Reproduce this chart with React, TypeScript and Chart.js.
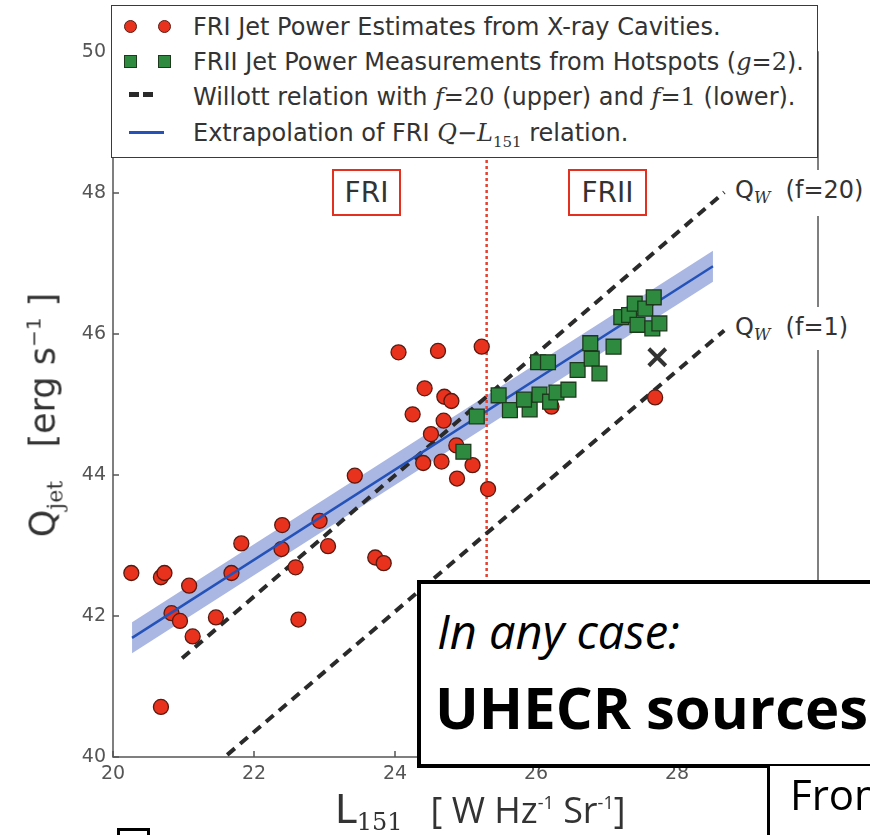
import React, { useEffect, useRef } from "react";
import { Chart, registerables } from "chart.js";

Chart.register(...registerables);

// ---- data ----
const friL = [20.26, 20.68, 20.73, 21.08, 20.83, 20.95, 21.13, 20.68, 21.46, 21.68, 21.82, 22.4, 22.39, 22.59, 22.63, 22.93, 23.05, 23.43, 23.72, 23.84, 24.4, 24.66, 24.88, 25.1, 25.32, 24.87, 24.05, 24.61, 25.23, 24.42, 24.7, 24.8, 24.25, 24.69, 24.51, 27.69, 26.22];
const friQ = [42.61, 42.55, 42.61, 42.43, 42.04, 41.93, 41.71, 40.71, 41.98, 42.61, 43.03, 43.29, 42.95, 42.69, 41.95, 43.35, 42.99, 43.99, 42.83, 42.75, 44.17, 44.19, 43.95, 44.14, 43.8, 44.42, 45.74, 45.76, 45.82, 45.23, 45.11, 45.05, 44.86, 44.77, 44.58, 45.1, 44.97];

const friiL = [25.16, 25.47, 25.63, 25.91, 25.83, 26.05, 26.2, 26.29, 26.46, 26.03, 26.17, 26.59, 26.79, 26.77, 26.9, 27.1, 27.21, 27.32, 27.4, 27.55, 27.67, 27.44, 27.65, 27.75, 24.97];
const friiQ = [44.83, 45.13, 44.92, 44.93, 45.07, 45.14, 45.04, 45.17, 45.21, 45.6, 45.6, 45.49, 45.65, 45.87, 45.44, 45.82, 46.24, 46.27, 46.43, 46.36, 46.52, 46.13, 46.08, 46.15, 44.33];

const outlierL = [27.72];
const outlierQ = [45.67];

const fitL = [20.27, 28.51];
const fitQ = [41.69, 46.96];
const fitUpperQ = [41.91, 47.18];
const fitLowerQ = [41.47, 46.74];

const willottUpperL = [20.98, 28.67];
const willottUpperQ = [41.4, 48.01];
const willottLowerL = [21.62, 28.67];
const willottLowerQ = [40.03, 46.05];

const dividerL = [25.3, 25.3];
const dividerQ = [40, 50];

const xTicks = [20, 22, 24, 26, 28];
const yTicks = [40, 42, 44, 46, 48, 50];

const SANS = '"DejaVu Sans", sans-serif';
const SERIF = '"DejaVu Serif", serif';
const OPEN = '"Open Sans", sans-serif';

const pts = (xs: number[], ys: number[]) => xs.map((x, i) => ({ x, y: ys[i] }));

const framePlugin = {
  id: "frame",
  beforeDatasetsDraw(chart: any) {
    const { ctx, chartArea: a, scales } = chart;
    ctx.save();
    ctx.strokeStyle = "#555";
    ctx.lineWidth = 1.5;
    ctx.strokeRect(a.left, a.top, a.right - a.left, a.bottom - a.top);
    ctx.beginPath();
    xTicks.forEach((v) => {
      const px = scales.x.getPixelForValue(v);
      ctx.moveTo(px, a.bottom);
      ctx.lineTo(px, a.bottom - 6);
    });
    yTicks.forEach((v) => {
      const py = scales.y.getPixelForValue(v);
      ctx.moveTo(a.left, py);
      ctx.lineTo(a.left + 6, py);
    });
    ctx.stroke();
    ctx.restore();
  },
};

const sub = (text: string, size: number, drop: number, font = SERIF, italic = false) => (
  <span style={{ fontSize: size, fontFamily: font, fontStyle: italic ? "italic" : "normal", position: "relative", top: drop }}>{text}</span>
);

export default function App() {
  const ref = useRef<HTMLCanvasElement>(null);

  useEffect(() => {
    if (!ref.current) return;
    const tickFont = { family: "DejaVu Sans", size: 19 };
    const chart = new Chart(ref.current, {
      type: "scatter",
      data: {
        datasets: [
          {
            label: "outlier",
            data: pts(outlierL, outlierQ),
            pointStyle: "crossRot",
            pointRadius: 12,
            borderWidth: 4,
            borderColor: "#333",
            backgroundColor: "#333",
            order: 0,
          } as any,
          {
            label: "FRII",
            data: pts(friiL, friiQ),
            pointStyle: "rect",
            pointRadius: 10.5,
            borderWidth: 1.3,
            borderColor: "#1d3a1d",
            backgroundColor: "#2d8a3e",
            order: 1,
          },
          {
            type: "line",
            label: "fit",
            data: pts(fitL, fitQ),
            borderColor: "#2452b8",
            borderWidth: 2.5,
            pointRadius: 0,
            fill: false,
            order: 2,
          },
          {
            label: "FRI",
            data: pts(friL, friQ),
            pointStyle: "circle",
            pointRadius: 7.5,
            borderWidth: 1.3,
            borderColor: "#5a1a10",
            backgroundColor: "#e8321e",
            order: 3,
          },
          {
            type: "line",
            label: "willottUpper",
            data: pts(willottUpperL, willottUpperQ),
            borderColor: "#2a2a2a",
            borderWidth: 4,
            borderDash: [10, 7],
            pointRadius: 0,
            fill: false,
            order: 4,
          },
          {
            type: "line",
            label: "willottLower",
            data: pts(willottLowerL, willottLowerQ),
            borderColor: "#2a2a2a",
            borderWidth: 4,
            borderDash: [10, 7],
            pointRadius: 0,
            fill: false,
            order: 5,
          },
          {
            type: "line",
            label: "divider",
            data: pts(dividerL, dividerQ),
            borderColor: "#e8402e",
            borderWidth: 2.5,
            borderDash: [3, 3],
            pointRadius: 0,
            fill: false,
            order: 6,
          },
          {
            type: "line",
            label: "bandUpper",
            data: pts(fitL, fitUpperQ),
            borderWidth: 0,
            borderColor: "rgba(0,0,0,0)",
            backgroundColor: "#a9b7e2",
            pointRadius: 0,
            fill: 8,
            order: 7,
          },
          {
            type: "line",
            label: "bandLower",
            data: pts(fitL, fitLowerQ),
            borderWidth: 0,
            borderColor: "rgba(0,0,0,0)",
            pointRadius: 0,
            fill: false,
            order: 8,
          },
        ] as any,
      },
      options: {
        animation: false,
        responsive: false,
        maintainAspectRatio: false,
        layout: { padding: { top: 52, right: 52, left: 0, bottom: 0 } },
        plugins: { legend: { display: false }, tooltip: { enabled: false } },
        scales: {
          x: {
            type: "linear",
            min: 20,
            max: 30,
            afterBuildTicks: (s: any) => {
              s.ticks = xTicks.map((v) => ({ value: v }));
            },
            afterFit: (s: any) => {
              s.height = 78;
            },
            grid: { display: false, drawTicks: false },
            border: { display: false },
            ticks: { font: tickFont, color: "#555", padding: 6, maxRotation: 0, autoSkip: false },
          },
          y: {
            type: "linear",
            min: 40,
            max: 50,
            afterBuildTicks: (s: any) => {
              s.ticks = yTicks.map((v) => ({ value: v }));
            },
            afterFit: (s: any) => {
              s.width = 113;
            },
            grid: { display: false, drawTicks: false },
            border: { display: false },
            ticks: { font: tickFont, color: "#555", padding: 7, autoSkip: false },
          },
        },
      } as any,
      plugins: [framePlugin],
    });
    return () => chart.destroy();
  }, []);

  const legendText: React.CSSProperties = {
    position: "absolute",
    left: 81,
    fontFamily: SANS,
    fontSize: 24,
    lineHeight: 1,
    color: "#333",
    whiteSpace: "nowrap",
  };
  const circle = (left: number, top: number): React.CSSProperties => ({
    position: "absolute", left, top, width: 13, height: 13, borderRadius: "50%", background: "#e8321e", border: "1.2px solid #5a1a10", boxSizing: "border-box",
  });
  const square = (left: number, top: number): React.CSSProperties => ({
    position: "absolute", left, top, width: 13, height: 13, background: "#2d8a3e", border: "1.2px solid #1d3a1d", boxSizing: "border-box",
  });
  const dash = (left: number, top: number): React.CSSProperties => ({
    position: "absolute", left, top, width: 10, height: 5, background: "#2a2a2a",
  });

  return (
    <div style={{ position: "fixed", left: 0, top: 0, width: 870, height: 835, overflow: "hidden", background: "#fff" }}>
      <canvas ref={ref} width={870} height={835} style={{ position: "absolute", left: 0, top: 0 }} />

      {/* Legend */}
      <div style={{ position: "absolute", left: 111, top: 5, width: 707, height: 153, border: "1.5px solid #3a3a3a", background: "#fff", boxSizing: "border-box" }}>
        <div style={circle(11.5, 14)} />
        <div style={circle(45.5, 14)} />
        <div style={{ ...legendText, top: 9 }}>FRI Jet Power Estimates from X-ray Cavities.</div>

        <div style={square(11.5, 49)} />
        <div style={square(45.5, 49)} />
        <div style={{ ...legendText, top: 44 }}>
          FRII Jet Power Measurements from Hotspots (
          <span style={{ fontFamily: SERIF, fontStyle: "italic" }}>g</span>
          <span style={{ fontFamily: SERIF }}>=2</span>).
        </div>

        <div style={dash(17, 86)} />
        <div style={dash(31, 86)} />
        <div style={{ ...legendText, top: 79 }}>
          Willott relation with <span style={{ fontFamily: SERIF, fontStyle: "italic" }}>f</span>
          <span style={{ fontFamily: SERIF }}>=20</span> (upper) and{" "}
          <span style={{ fontFamily: SERIF, fontStyle: "italic" }}>f</span>
          <span style={{ fontFamily: SERIF }}>=1</span> (lower).
        </div>

        <div style={{ position: "absolute", left: 17, top: 125, width: 35, height: 3, background: "#2452b8" }} />
        <div style={{ ...legendText, top: 115 }}>
          Extrapolation of FRI <span style={{ fontFamily: SERIF, fontStyle: "italic" }}>Q</span>−
          <span style={{ fontFamily: SERIF, fontStyle: "italic" }}>L</span>
          {sub("151", 15, 6)} relation.
        </div>
      </div>

      {/* FRI / FRII boxes */}
      <div style={{ position: "absolute", left: 332, top: 169, width: 69, height: 47, border: "2.5px solid #e2321f", boxSizing: "border-box", background: "#fff", display: "flex", alignItems: "center", justifyContent: "center", fontFamily: SANS, fontSize: 28, color: "#333" }}>FRI</div>
      <div style={{ position: "absolute", left: 568, top: 169, width: 79, height: 47, border: "2.5px solid #e2321f", boxSizing: "border-box", background: "#fff", display: "flex", alignItems: "center", justifyContent: "center", fontFamily: SANS, fontSize: 28, color: "#333" }}>FRII</div>

      {/* Q_W labels */}
      <div style={{ position: "absolute", left: 731, top: 170, height: 46, paddingLeft: 4, width: 140, background: "#fff", fontFamily: SANS, fontSize: 24, color: "#333", lineHeight: "40px", whiteSpace: "nowrap" }}>
        Q{sub("W", 16, 5, SERIF, true)}&nbsp;&nbsp;(f=20)
      </div>
      <div style={{ position: "absolute", left: 731, top: 307, height: 43, paddingLeft: 4, width: 140, background: "#fff", fontFamily: SANS, fontSize: 24, color: "#333", lineHeight: "40px", whiteSpace: "nowrap" }}>
        Q{sub("W", 16, 5, SERIF, true)}&nbsp;&nbsp;(f=1)
      </div>

      {/* y-axis title */}
      <div style={{ position: "absolute", left: 43, top: 415, width: 0, height: 0 }}>
        <div style={{ position: "absolute", left: 0, top: 0, transform: "translate(-50%,-50%) rotate(-90deg)", whiteSpace: "nowrap", fontFamily: SANS, fontSize: 35, color: "#333", lineHeight: 1 }}>
          Q{sub("jet", 22, 8, SERIF)}&nbsp;&nbsp;&nbsp;[erg s{sub("−1", 20, -14, SANS)}&nbsp;]
        </div>
      </div>

      {/* x-axis title */}
      <div style={{ position: "absolute", left: 335, top: 790, whiteSpace: "nowrap", color: "#333", lineHeight: 1 }}>
        <span style={{ fontFamily: SANS, fontSize: 39 }}>L</span>
        {sub("151", 24, 7, SERIF)}
        <span style={{ fontFamily: OPEN, fontSize: 36, marginLeft: 28 }}>[ W Hz</span>
        {sub("-1", 18, -14, OPEN)}
        <span style={{ fontFamily: OPEN, fontSize: 36 }}> Sr</span>
        {sub("-1", 18, -14, OPEN)}
        <span style={{ fontFamily: OPEN, fontSize: 36 }}>]</span>
      </div>

      {/* Slide overlay box */}
      <div style={{ position: "absolute", left: 417, top: 580, width: 480, height: 188, border: "4px solid #000", background: "#fff", boxSizing: "border-box" }}>
        <div style={{ position: "absolute", left: 16, top: 24, fontFamily: OPEN, fontStyle: "italic", fontSize: 47, lineHeight: 1, color: "#000", whiteSpace: "nowrap" }}>In any case:</div>
        <div style={{ position: "absolute", left: 14, top: 94, fontFamily: OPEN, fontWeight: 700, fontSize: 58, lineHeight: 1, color: "#000", whiteSpace: "nowrap" }}>UHECR sources</div>
      </div>

      {/* next box partially visible */}
      <div style={{ position: "absolute", left: 767, top: 766, width: 200, height: 100, borderLeft: "3px solid #000", background: "#fff" }}>
        <div style={{ position: "absolute", left: 20, top: 7, fontFamily: OPEN, fontSize: 42, lineHeight: 1, color: "#000", whiteSpace: "nowrap" }}>From</div>
      </div>

      {/* bullet square */}
      <div style={{ position: "absolute", left: 117, top: 828, width: 33, height: 33, border: "3px solid #000", boxSizing: "border-box", background: "#fff" }} />
    </div>
  );
}
